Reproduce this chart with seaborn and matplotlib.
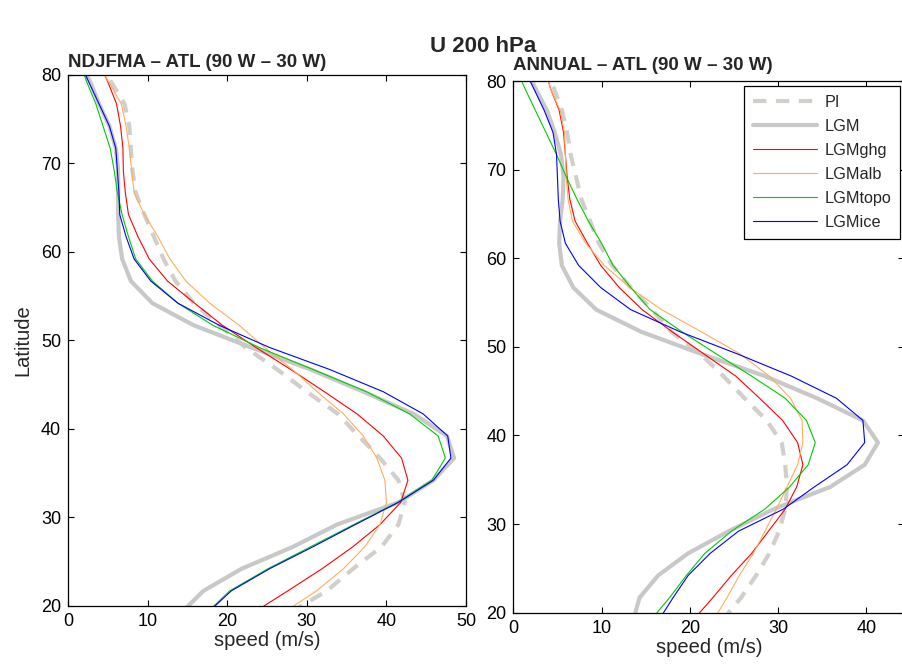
import matplotlib
matplotlib.use("Agg")
import matplotlib.pyplot as plt
import seaborn as sns

# latitude grid (model points, lines are clipped to 20-80)
lats = [81.7, 79.2, 76.7, 74.2, 71.7, 69.2, 66.7, 64.2, 61.7, 59.2, 56.7, 54.2, 51.7,
        49.2, 46.7, 44.2, 41.7, 39.2, 36.7, 34.2, 31.7, 29.2, 26.7, 24.2, 21.7, 19.2]

runs = ["PI", "LGM", "LGMghg", "LGMalb", "LGMtopo", "LGMice"]

# NDJFMA, ATL (90W-30W), zonal wind at 200 hPa (m/s)
ndjfma_pi = [4.1, 5.4, 7.1, 7.7, 7.9, 8.1, 8.5, 9.6, 10.8, 12.0, 13.5, 15.8, 19.0,
             22.3, 26.3, 30.0, 33.9, 36.5, 39.2, 41.5, 42.3, 41.5, 39.4, 35.8, 32.5, 27.8]
ndjfma_lgm = [1.2, 2.8, 3.9, 5.2, 6.0, 6.3, 6.3, 6.3, 6.4, 6.8, 7.9, 10.6, 15.8,
              23.0, 30.5, 37.1, 43.4, 47.6, 48.5, 45.9, 41.5, 33.8, 28.3, 21.8, 17.0, 14.2]
ndjfma_ghg = [3.75, 5.0, 6.1, 6.6, 6.9, 6.95, 7.2, 7.6, 8.8, 10.2, 12.5, 15.9, 19.4,
              23.6, 28.0, 32.2, 36.3, 39.6, 41.9, 42.7, 41.8, 39.2, 35.8, 31.9, 27.6, 23.2]
ndjfma_alb = [3.5, 5.1, 6.7, 7.3, 7.7, 8.0, 8.3, 9.6, 11.3, 12.8, 14.8, 17.8, 21.5,
              24.7, 28.2, 31.3, 34.6, 37.1, 38.8, 39.8, 40.0, 39.2, 37.3, 34.6, 31.2, 27.0]
ndjfma_topo = [1.4, 2.35, 3.5, 4.4, 5.3, 5.8, 6.2, 6.8, 7.6, 8.5, 10.6, 13.8, 18.2,
               24.0, 30.8, 37.5, 42.9, 46.5, 47.4, 45.7, 41.4, 35.9, 30.5, 25.1, 20.3, 17.4]
ndjfma_ice = [1.35, 2.6, 3.9, 5.2, 6.0, 6.2, 6.4, 6.5, 7.3, 8.3, 10.4, 13.8, 19.0,
              25.3, 32.9, 39.6, 44.6, 47.7, 48.1, 45.9, 41.5, 36.1, 30.8, 25.3, 20.5, 17.5]

# ANNUAL, ATL (90W-30W)
annual_pi = [3.4, 4.6, 5.5, 6.1, 6.5, 7.1, 7.7, 8.7, 9.7, 11.2, 13.3, 15.7, 17.9,
             21.2, 23.8, 26.2, 28.7, 30.4, 30.8, 31.0, 30.8, 30.1, 29.0, 27.5, 25.8, 23.7]
annual_lgm = [1.25, 2.5, 3.8, 4.7, 5.4, 5.7, 5.6, 5.3, 5.2, 5.5, 6.8, 9.4, 14.5,
              21.3, 28.5, 34.4, 39.6, 41.3, 39.8, 35.9, 29.5, 24.4, 19.8, 16.4, 14.3, 13.6]
annual_ghg = [3.5, 4.2, 5.2, 5.7, 5.9, 6.1, 6.4, 7.0, 8.4, 9.9, 12.0, 14.6, 18.0,
              21.6, 25.2, 27.9, 30.5, 32.2, 32.8, 32.1, 30.8, 28.9, 27.0, 24.7, 22.6, 20.4]
annual_alb = [3.5, 4.2, 5.3, 5.8, 5.9, 6.0, 6.2, 6.7, 8.2, 10.3, 13.2, 16.8, 21.3,
              25.7, 29.0, 31.4, 32.7, 32.8, 32.2, 31.0, 29.8, 28.5, 27.2, 25.6, 24.2, 22.7]
annual_topo = [0.2, 1.3, 2.5, 3.7, 4.9, 6.0, 7.2, 8.5, 10.0, 11.3, 13.3, 15.5, 19.1,
               23.0, 27.0, 30.8, 33.2, 34.2, 33.4, 31.3, 28.5, 24.7, 21.7, 19.6, 17.7, 15.6]
annual_ice = [1.05, 2.3, 3.5, 4.5, 4.9, 5.0, 5.1, 5.3, 5.9, 7.4, 9.9, 13.3, 18.9,
              25.4, 31.5, 36.6, 39.6, 39.8, 37.8, 34.1, 30.6, 25.5, 22.3, 19.8, 18.1, 16.5]

colors = {"PI": "#d2cfcb", "LGM": "#c8c8c8", "LGMghg": "#ff0000",
          "LGMalb": "#ffad5c", "LGMtopo": "#00cc00", "LGMice": "#0000ff"}
widths = {"PI": 3.0, "LGM": 3.0, "LGMghg": 0.8, "LGMalb": 0.8, "LGMtopo": 0.8, "LGMice": 0.8}

sns.set_style("ticks")
plt.rcParams["font.family"] = ["Liberation Sans", "DejaVu Sans"]

fig = plt.figure(figsize=(9.03, 6.66), dpi=100)
ax1 = fig.add_axes([0.0753, 0.0901, 0.4408, 0.7977])
ax2 = fig.add_axes([0.5684, 0.0800, 0.4332, 0.7983])

panels = [
    (ax1, [ndjfma_pi, ndjfma_lgm, ndjfma_ghg, ndjfma_alb, ndjfma_topo, ndjfma_ice],
     "NDJFMA \u2013 ATL (90 W \u2013 30 W)", 50, 5.5),
    (ax2, [annual_pi, annual_lgm, annual_ghg, annual_alb, annual_topo, annual_ice],
     "ANNUAL \u2013 ATL (90 W \u2013 30 W)", 44.3, 8),
]

for ax, series, title, xmax, tpad in panels:
    for run, vals in zip(runs, series):
        ls = (0, (3.2, 2.3)) if run == "PI" else "-"
        sns.lineplot(x=vals, y=lats, sort=False, estimator=None, ax=ax,
                     color=colors[run], lw=widths[run], linestyle=ls, label=run)
    ax.set_xlim(0, xmax)
    ax.set_ylim(20, 80)
    ax.set_xticks([0, 10, 20, 30, 40, 50] if xmax >= 50 else [0, 10, 20, 30, 40])
    ax.set_yticks([20, 30, 40, 50, 60, 70, 80])
    ax.tick_params(direction="in", top=True, right=True, length=4, width=0.8,
                   labelsize=13, colors="black", pad=5)
    for sp in ax.spines.values():
        sp.set_visible(True)
        sp.set_linewidth(0.9)
        sp.set_color("black")
    ax.set_xlabel("speed (m/s)", fontsize=14.5, labelpad=1)
    ax.set_title(title, loc="left", fontsize=13.5, fontweight="bold", pad=tpad)
    ax.get_legend().remove()

ax1.set_ylabel("Latitude", fontsize=14.5, labelpad=6)

handles, labels = ax2.get_legend_handles_labels()
leg = fig.legend(handles, labels, loc="upper right", bbox_to_anchor=(0.9967, 0.8709),
                 bbox_transform=fig.transFigure, borderaxespad=0, fancybox=False,
                 framealpha=1, edgecolor="black", fontsize=11.7, handlelength=3.95,
                 handletextpad=0.45, labelspacing=0.55, borderpad=0.55)
leg.get_frame().set_linewidth(0.9)

fig.text(0.535, 1 - 47 / 666, "U 200 hPa", ha="center", va="center",
         fontsize=16, fontweight="bold")

fig.savefig("out.png", dpi=100)
